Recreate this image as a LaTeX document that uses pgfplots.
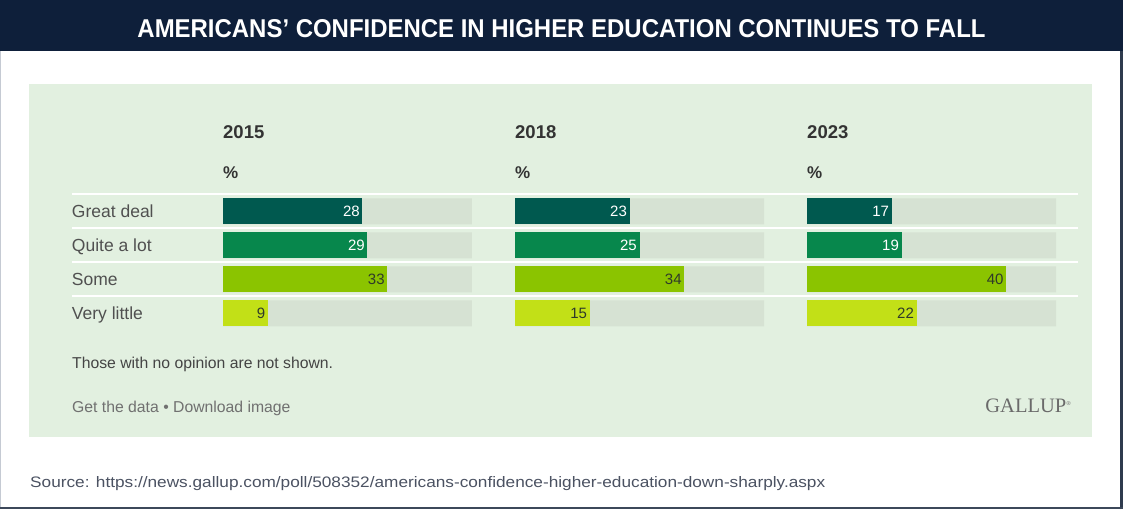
\documentclass[border=0pt]{standalone}
\usepackage{pgfplots}
\pgfplotsset{compat=1.18}
\usepackage{fontspec}
\setmainfont{Liberation Sans}
\newfontfamily\serif{Liberation Serif}
\usepackage{graphicx}

\definecolor{banner}{HTML}{0E1F3A}
\definecolor{panelbg}{HTML}{E2F0E0}
\definecolor{track}{HTML}{D6E2D3}
\definecolor{cgd}{HTML}{00594F}
\definecolor{cqal}{HTML}{07874C}
\definecolor{csome}{HTML}{8BC400}
\definecolor{cvl}{HTML}{C2E017}
\definecolor{labgray}{HTML}{505050}
\definecolor{darknum}{HTML}{2F3A2A}

\pgfplotsset{
  panel/.style={
    xbar, scale only axis, width=249pt, height=136pt,
    xmin=0, xmax=50, ymin=-0.5, ymax=3.5, y dir=reverse,
    enlargelimits=false, clip=false,
    axis line style={draw=none}, tick style={draw=none},
    xtick=\empty, ytick=\empty,
    bar width=26pt, bar shift=0pt,
    /pgf/number format/assume math mode=true,
    nodes near coords,
    every node near coord/.append style={anchor=east, inner sep=2.5pt,
      font=\fontsize{15}{15}\selectfont},
  },
  track/.style={fill=track, draw=none, nodes near coords={}},
  row/.style={fill=#1, draw=none},
}

\begin{document}
\begin{tikzpicture}[x=1pt,y=1pt]
\useasboundingbox (0,0) rectangle (1123,509);
\fill[white] (0,0) rectangle (1123,509);
% banner and frame
\fill[banner] (0,458) rectangle (1123,509);
\draw[color={rgb,255:red,197;green,202;blue,211}, line width=1pt] (0.5,0) -- (0.5,458);
\draw[color={rgb,255:red,47;green,59;blue,78}, line width=3pt] (1121.5,0) -- (1121.5,458);
\draw[color={rgb,255:red,60;green,72;blue,90}, line width=2pt] (0,1) -- (1123,1);
\node[anchor=base, text=white] at (561.5,471)
  {\resizebox{848pt}{18pt}{\bfseries AMERICANS’ CONFIDENCE IN HIGHER EDUCATION CONTINUES TO FALL}};
% panel
\fill[panelbg] (29,72) rectangle (1092,425);
\foreach \yy in {315,281,247,213}
  \draw[white, line width=2pt] (72,\yy) -- (1078,\yy);

% 2015
\begin{axis}[panel, at={(223pt,314.7pt)}, anchor=north west,
  ytick={0,1,2,3},
  yticklabels={Great deal, Quite a lot, Some, Very little},
  yticklabel style={anchor=west, xshift=-147pt, inner sep=0pt,
    text height=12.8pt, text depth=0pt,
    font=\fontsize{17.5}{17.5}\selectfont, text=labgray}]
  \addplot[track] coordinates {(50,0) (50,1) (50,2) (50,3)};
  \addplot[row=cgd, every node near coord/.append style={text=white}] coordinates {(28,0)};
  \addplot[row=cqal, every node near coord/.append style={text=white}] coordinates {(29,1)};
  \addplot[row=csome, every node near coord/.append style={text=darknum}] coordinates {(33,2)};
  \addplot[row=cvl, every node near coord/.append style={text=darknum}] coordinates {(9,3)};
\end{axis}

% 2018
\begin{axis}[panel, at={(515pt,314.7pt)}, anchor=north west]
  \addplot[track] coordinates {(50,0) (50,1) (50,2) (50,3)};
  \addplot[row=cgd, every node near coord/.append style={text=white}] coordinates {(23,0)};
  \addplot[row=cqal, every node near coord/.append style={text=white}] coordinates {(25,1)};
  \addplot[row=csome, every node near coord/.append style={text=darknum}] coordinates {(34,2)};
  \addplot[row=cvl, every node near coord/.append style={text=darknum}] coordinates {(15,3)};
\end{axis}

% 2023
\begin{axis}[panel, at={(807pt,314.7pt)}, anchor=north west]
  \addplot[track] coordinates {(50,0) (50,1) (50,2) (50,3)};
  \addplot[row=cgd, every node near coord/.append style={text=white}] coordinates {(17,0)};
  \addplot[row=cqal, every node near coord/.append style={text=white}] coordinates {(19,1)};
  \addplot[row=csome, every node near coord/.append style={text=darknum}] coordinates {(40,2)};
  \addplot[row=cvl, every node near coord/.append style={text=darknum}] coordinates {(22,3)};
\end{axis}

% column heads
\foreach \xx/\yr in {223/2015, 515/2018, 807/2023} {
  \node[anchor=base west, inner sep=0pt, text={rgb,255:red,51;green,51;blue,51},
    font=\fontsize{18.5}{18.5}\selectfont\bfseries] at (\xx,370.7) {\yr};
  \node[anchor=base west, inner sep=0pt, text={rgb,255:red,51;green,51;blue,51},
    font=\fontsize{17}{17}\selectfont\bfseries] at (\xx,330) {\%};
}

% notes
\node[anchor=base west, inner sep=0pt, text={rgb,255:red,68;green,68;blue,68},
  font=\fontsize{15.75}{15.75}\selectfont] at (72,140.7) {Those with no opinion are not shown.};
\node[anchor=base west, inner sep=0pt, text={rgb,255:red,112;green,112;blue,112},
  font=\fontsize{15.75}{15.75}\selectfont] at (72,97) {Get the data • Download image};
\node[anchor=base east, inner sep=0pt, text={rgb,255:red,106;green,106;blue,106},
  font=\fontsize{20.5}{20.5}\serif] at (1071,97) {GALLUP\raisebox{7pt}{\fontsize{6}{6}\selectfont ®}};
\node[anchor=base west, inner sep=0pt, text={rgb,255:red,75;green,82;blue,98}] at (30,22)
  {\resizebox{795pt}{11pt}{Source: https://news.gallup.com/poll/508352/americans-confidence-higher-education-down-sharply.aspx}};
\end{tikzpicture}
\end{document}
